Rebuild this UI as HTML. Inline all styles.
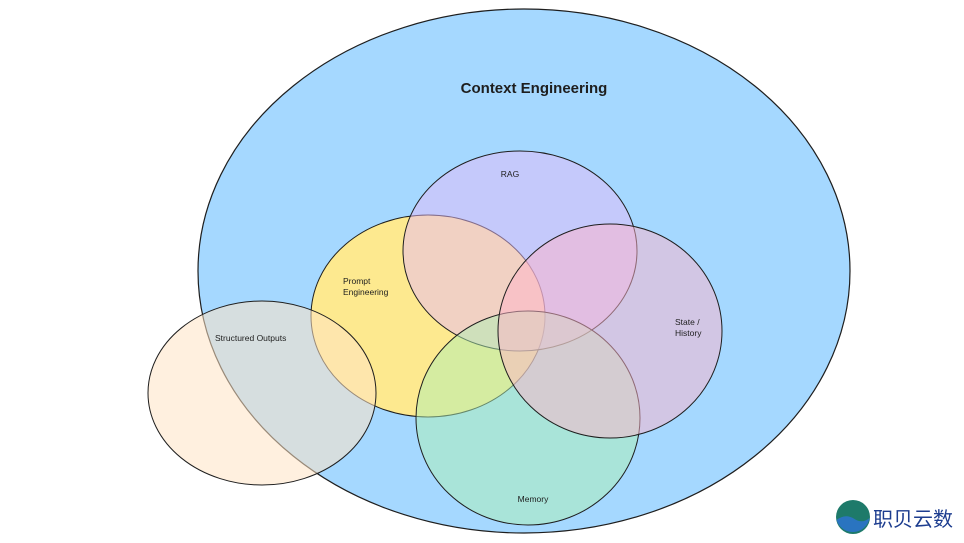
<!DOCTYPE html>
<html><head><style>
html,body{margin:0;padding:0;background:#fff;width:964px;height:543px;overflow:hidden}
text{font-family:"Liberation Sans",sans-serif;fill:#1e1e1e}
</style></head><body>
<svg width="964" height="543" viewBox="0 0 964 543">
<ellipse cx="524" cy="271" rx="326" ry="262" fill="#a5d8ff" stroke="#1e1e1e" stroke-width="1.2"/>
<ellipse cx="428" cy="316" rx="117" ry="101" fill="#fde98f" stroke="#1e1e1e" stroke-width="1"/>
<ellipse cx="520" cy="251" rx="117" ry="100" fill="#e5baf7" fill-opacity="0.5" stroke="#1e1e1e" stroke-width="1"/>
<ellipse cx="528" cy="418" rx="112" ry="107" fill="#adf0b3" fill-opacity="0.5" stroke="#1e1e1e" stroke-width="1"/>
<ellipse cx="610" cy="331" rx="112" ry="107" fill="#ffb4c9" fill-opacity="0.5" stroke="#1e1e1e" stroke-width="1"/>
<ellipse cx="262" cy="393" rx="114" ry="92" fill="#ffe3c4" fill-opacity="0.55" stroke="#1e1e1e" stroke-width="1"/>
<text x="534" y="93" font-size="15" font-weight="bold" text-anchor="middle">Context Engineering</text>
<text x="510" y="177" font-size="8.5" text-anchor="middle">RAG</text>
<text x="343" y="284" font-size="8.5">Prompt</text>
<text x="343" y="295" font-size="8.5">Engineering</text>
<text x="215" y="341" font-size="8.5">Structured Outputs</text>
<text x="675" y="325" font-size="8.5">State /</text>
<text x="675" y="336" font-size="8.5">History</text>
<text x="533" y="502" font-size="8.5" text-anchor="middle">Memory</text>
<circle cx="853" cy="517" r="17" fill="#1e7a6a"/>
<path d="M836.5 520 q9 -7 18 -1 q8 5 15 -1 a17 17 0 0 1 -33 2z" fill="#2a74c0"/>
<text x="873" y="526" font-size="20" font-family="'Liberation Sans','Noto Sans CJK SC',sans-serif" style="fill:#1d3d8f">职贝云数</text>
</svg>
</body></html>
